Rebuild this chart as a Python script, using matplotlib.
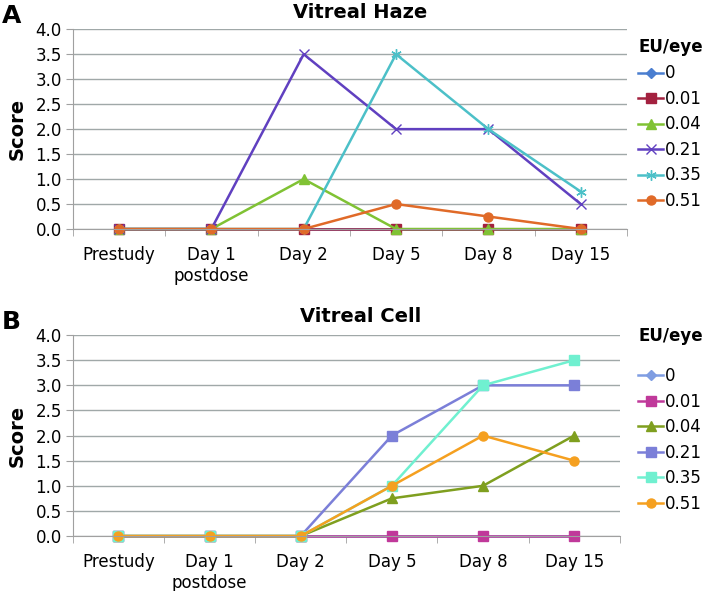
import matplotlib.pyplot as plt
import numpy as np

categories = ["Prestudy", "Day 1\npostdose", "Day 2", "Day 5", "Day 8", "Day 15"]
doses = ["0", "0.01", "0.04", "0.21", "0.35", "0.51"]

# Vitreal haze scores per dose
haze_0 = [0, 0, 0, 0, 0, 0]
haze_001 = [0, 0, 0, 0, 0, 0]
haze_004 = [0, 0, 1.0, 0, 0, 0]
haze_021 = [0, 0, 3.5, 2.0, 2.0, 0.5]
haze_035 = [0, 0, 0, 3.5, 2.0, 0.75]
haze_051 = [0, 0, 0, 0.5, 0.25, 0]

# Vitreal cell scores per dose
cell_0 = [0, 0, 0, 0, 0, 0]
cell_001 = [0, 0, 0, 0, 0, 0]
cell_004 = [0, 0, 0, 0.75, 1.0, 2.0]
cell_021 = [0, 0, 0, 2.0, 3.0, 3.0]
cell_035 = [0, 0, 0, 1.0, 3.0, 3.5]
cell_051 = [0, 0, 0, 1.0, 2.0, 1.5]

haze = [haze_0, haze_001, haze_004, haze_021, haze_035, haze_051]
cell = [cell_0, cell_001, cell_004, cell_021, cell_035, cell_051]

haze_colors = ["#4a7ed0", "#a3213f", "#80c234", "#6040c0", "#4cc0c8", "#e06a28"]
cell_colors = ["#7f9de2", "#c0399a", "#7f9f1f", "#7b7fd8", "#70f0d0", "#f5a020"]
haze_markers = ["D", "s", "^", "x", (6, 2, 0), "o"]
cell_markers = ["D", "s", "^", "s", "s", "o"]

plt.rcParams["font.family"] = ["DejaVu Sans"]

fig = plt.figure(figsize=(7.14, 5.91), dpi=100)
ax_a = fig.add_axes([0.102, 0.6125, 0.776, 0.338])
ax_b = fig.add_axes([0.102, 0.093, 0.766, 0.340])


def draw_panel(ax, series, colors, markers, title, letter, title_y, letter_y,
               legend_y, legend_sep):
    x = np.arange(len(categories))
    for vals, col, mk, lab in zip(series, colors, markers, doses):
        ms = 6.5
        if mk == "D":
            ms = 5
        if mk == "x" or isinstance(mk, tuple):
            ms = 7.5
        ax.plot(x, vals, color=col, marker=mk, markersize=ms, lw=1.8,
                markeredgecolor=col, markeredgewidth=1.0, label=lab,
                clip_on=False)
    ax.set_xlim(-0.5, len(categories) - 0.5)
    ax.set_ylim(0, 4)
    yt = np.arange(0, 4.01, 0.5)
    ax.set_yticks(yt)
    ax.set_yticklabels([f"{v:.1f}" for v in yt], fontsize=12)
    ax.set_xticks(x)
    ax.set_xticklabels(categories, fontsize=12, linespacing=1.25)
    ax.set_xticks(np.arange(-0.5, len(categories), 1), minor=True)
    ax.tick_params(axis="x", which="major", length=0, pad=12)
    ax.tick_params(axis="x", which="minor", length=5, color="#a0a0a0", direction="out")
    ax.tick_params(axis="y", length=5, color="#a0a0a0", pad=3)
    ax.grid(True, axis="y", color="#a0a8a8", lw=1.0)
    ax.set_axisbelow(True)
    for s in ("top", "right"):
        ax.spines[s].set_visible(False)
    ax.spines["left"].set_color("#a0a0a0")
    ax.spines["bottom"].set_color("#a0a0a0")
    ax.set_ylabel("Score", fontsize=14, fontweight="bold", labelpad=6)
    fig.text(0.505, title_y, title, fontsize=14, fontweight="bold",
             ha="center", va="center")
    fig.text(0.003, letter_y, letter, fontsize=18,
             fontweight="bold", va="center", ha="left")
    leg = fig.legend(*ax.get_legend_handles_labels(), loc="upper left",
                     bbox_to_anchor=(0.873, legend_y), frameon=False,
                     title="EU/eye", fontsize=12, handlelength=1.5,
                     handletextpad=0.1, labelspacing=0.45)
    leg.get_title().set_fontweight("bold")
    leg.get_title().set_fontsize(12)
    leg._legend_box.align = "left"
    leg._legend_box.sep = legend_sep


draw_panel(ax_a, haze, haze_colors, haze_markers, "Vitreal Haze", "A",
           1 - 12 / 591, 1 - 16 / 591, 0.961, 6)
draw_panel(ax_b, cell, cell_colors, cell_markers, "Vitreal Cell", "B",
           1 - 316 / 591, 1 - 322 / 591, 0.472, 16)

fig.savefig("out.png", dpi=100)
